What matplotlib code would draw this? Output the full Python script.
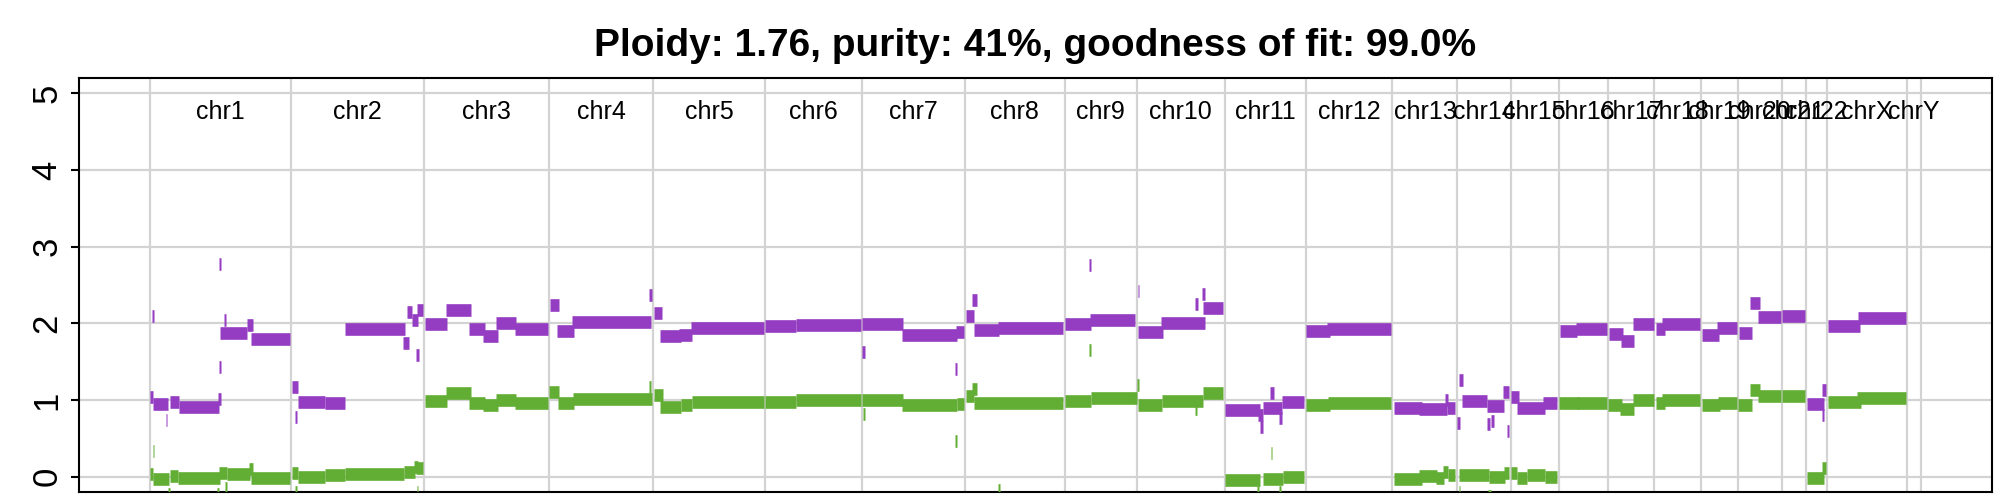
import numpy as np
import matplotlib
matplotlib.use("Agg")
import matplotlib.pyplot as plt

plt.rcParams['font.family'] = ['Liberation Sans', 'DejaVu Sans']

# -----------------------------
# DATA
# -----------------------------
chrom_names = ["chr1", "chr2", "chr3", "chr4", "chr5", "chr6", "chr7", "chr8",
               "chr9", "chr10", "chr11", "chr12", "chr13", "chr14", "chr15",
               "chr16", "chr17", "chr18", "chr19", "chr20", "chr21", "chr22",
               "chrX", "chrY"]
# chromosome extent in Mb
chrom_sizes = [247, 233, 219, 182, 196, 170, 180, 175, 126, 154, 142, 152,
               114, 93, 84, 86, 82, 81, 65, 77, 42, 37, 140, 25]

# total copy number segments: (chrom, start Mb, end Mb, copy number)
total_segments = [
    ("chr1", 1, 6, 1.04), ("chr1", 6, 31, 0.95), ("chr1", 27.5, 30.5, 0.74),
    ("chr1", 35, 51, 0.97), ("chr1", 51, 121, 0.91), ("chr1", 119, 124, 1.01),
    ("chr1", 4, 7, 2.09), ("chr1", 121, 124, 2.78), ("chr1", 121, 124, 1.43),
    ("chr1", 123, 171, 1.88), ("chr1", 130, 133, 2.05), ("chr1", 171, 180, 1.98),
    ("chr1", 178, 246, 1.79),
    ("chr2", 2, 12, 1.17), ("chr2", 7, 10, 0.78), ("chr2", 12, 59, 0.98),
    ("chr2", 59, 94, 0.96), ("chr2", 94, 200, 1.93), ("chr2", 196, 207, 1.74),
    ("chr2", 203, 212, 2.15), ("chr2", 212, 222, 2.05), ("chr2", 219, 224, 1.59),
    ("chr2", 221, 231, 2.17),
    ("chr3", 2, 41, 1.99), ("chr3", 38, 82, 2.18), ("chr3", 79, 107, 1.93),
    ("chr3", 103, 129, 1.84), ("chr3", 126, 162, 2.01), ("chr3", 159, 217, 1.92),
    ("chr4", 2, 17, 2.24), ("chr4", 14, 44, 1.90), ("chr4", 40, 179, 2.02),
    ("chr4", 175, 180, 2.37),
    ("chr5", 2, 16, 2.13), ("chr5", 12, 49, 1.83), ("chr5", 45, 69, 1.85),
    ("chr5", 66, 194, 1.94),
    ("chr6", 1, 55, 1.96), ("chr6", 55, 168, 1.98),
    ("chr7", 1, 72, 1.99), ("chr7", 1, 5, 1.63), ("chr7", 70, 166, 1.85),
    ("chr7", 163, 167, 1.40), ("chr7", 165, 179, 1.89),
    ("chr8", 2, 16, 2.10), ("chr8", 12, 21, 2.30), ("chr8", 17, 60, 1.91),
    ("chr8", 58, 173, 1.94),
    ("chr9", 0, 47, 1.99), ("chr9", 44, 124, 2.05), ("chr9", 43, 46, 2.76),
    ("chr10", 2, 5, 2.42), ("chr10", 2, 46, 1.89), ("chr10", 42, 119, 2.00),
    ("chr10", 103, 108, 2.25), ("chr10", 115, 120, 2.38), ("chr10", 117, 152, 2.20),
    ("chr11", 1, 62, 0.87), ("chr11", 58, 67, 0.80), ("chr11", 62, 67, 0.65),
    ("chr11", 67, 100, 0.90), ("chr11", 80, 86, 1.09), ("chr11", 95, 100, 0.77),
    ("chr11", 100, 140, 0.98),
    ("chr12", 1, 42, 1.90), ("chr12", 38, 150, 1.93),
    ("chr13", 2, 52, 0.90), ("chr13", 47, 95, 0.88), ("chr13", 92, 98, 1.00),
    ("chr13", 95, 110, 0.90),
    ("chr14", 3, 10, 1.26), ("chr14", 0, 5, 0.70), ("chr14", 8, 52, 0.99),
    ("chr14", 52, 81, 0.92), ("chr14", 51, 57, 0.69), ("chr14", 58, 64, 0.72),
    ("chr14", 79, 91, 1.11), ("chr14", 87, 91, 0.60),
    ("chr15", 0, 14, 1.04), ("chr15", 11, 61, 0.90), ("chr15", 56, 82, 0.96),
    ("chr16", 2, 33, 1.90), ("chr16", 30, 84, 1.92),
    ("chr17", 2, 26, 1.86), ("chr17", 23, 47, 1.77), ("chr17", 44, 81, 1.99),
    ("chr18", 2, 18, 1.92), ("chr18", 14, 79, 1.99),
    ("chr19", 2, 32, 1.85), ("chr19", 28, 63, 1.94),
    ("chr20", 2, 25, 1.88), ("chr20", 21, 38, 2.26), ("chr20", 35, 76, 2.08),
    ("chr21", 1, 40, 2.10),
    ("chr22", 2, 32, 0.95), ("chr22", 28, 35, 1.13), ("chr22", 28, 31, 0.80),
    ("chrX", 2, 58, 1.97), ("chrX", 54, 138, 2.07),
]

# minor allele copy number segments: (chrom, start Mb, end Mb, copy number)
minor_segments = [
    ("chr1", 5, 8, 0.34), ("chr1", 1, 6, 0.04), ("chr1", 6, 33, -0.03),
    ("chr1", 32, 35, -0.22), ("chr1", 35, 49, 0.01), ("chr1", 49, 122, -0.02),
    ("chr1", 118, 121, -0.22), ("chr1", 121, 135, 0.05), ("chr1", 132, 135, -0.15),
    ("chr1", 135, 175, 0.03), ("chr1", 173, 180, 0.10), ("chr1", 178, 246, -0.02),
    ("chr2", 2, 12, 0.05), ("chr2", 8, 11, -0.20), ("chr2", 12, 59, 0.00),
    ("chr2", 59, 94, 0.02), ("chr2", 94, 198, 0.04), ("chr2", 198, 217, 0.06),
    ("chr2", 220, 223, -0.20), ("chr2", 216, 222, 0.12), ("chr2", 219, 232, 0.11),
    ("chr3", 2, 41, 0.99), ("chr3", 38, 82, 1.09), ("chr3", 79, 107, 0.96),
    ("chr3", 103, 129, 0.93), ("chr3", 126, 162, 1.00), ("chr3", 159, 217, 0.96),
    ("chr4", 0, 17, 1.11), ("chr4", 15, 43, 0.96), ("chr4", 42, 181, 1.01),
    ("chr4", 175, 179, 1.17),
    ("chr5", 2, 17, 1.07), ("chr5", 12, 49, 0.91), ("chr5", 49, 68, 0.93),
    ("chr5", 68, 195, 0.97),
    ("chr6", 1, 55, 0.98), ("chr6", 55, 168, 1.00),
    ("chr7", 1, 72, 1.00), ("chr7", 2, 5, 0.82), ("chr7", 70, 166, 0.93),
    ("chr7", 163, 167, 0.47), ("chr7", 166, 179, 0.95),
    ("chr8", 2, 17, 1.05), ("chr8", 12, 21, 1.14), ("chr8", 17, 173, 0.96),
    ("chr8", 59, 62, -0.17),
    ("chr9", 43, 46, 1.65), ("chr9", 0, 47, 0.99), ("chr9", 47, 126, 1.02),
    ("chr10", 1, 4, 1.20), ("chr10", 2, 45, 0.94), ("chr10", 45, 117, 0.99),
    ("chr10", 103, 106, 0.88), ("chr10", 117, 152, 1.09),
    ("chr11", 1, 62, -0.04), ("chr11", 57, 60, -0.20), ("chr11", 81, 84, 0.31),
    ("chr11", 67, 102, -0.03), ("chr11", 96, 99, -0.20), ("chr11", 102, 140, 0.00),
    ("chr12", 1, 42, 0.94), ("chr12", 40, 150, 0.96),
    ("chr13", 2, 52, -0.03), ("chr13", 47, 79, 0.01), ("chr13", 77, 91, -0.02),
    ("chr13", 89, 98, 0.06), ("chr13", 98, 110, 0.02),
    ("chr14", 2, 5, -0.20), ("chr14", 3, 56, 0.02), ("chr14", 56, 83, 0.00),
    ("chr14", 53, 58, -0.25), ("chr14", 82, 91, 0.05),
    ("chr15", 0, 12, 0.05), ("chr15", 12, 28, -0.02), ("chr15", 28, 61, 0.02),
    ("chr15", 61, 82, 0.00),
    ("chr16", 0, 35, 0.96), ("chr16", 33, 84, 0.96),
    ("chr17", 0, 25, 0.93), ("chr17", 22, 47, 0.88), ("chr17", 45, 81, 1.00),
    ("chr18", 2, 18, 0.96), ("chr18", 14, 79, 1.00),
    ("chr19", 2, 33, 0.93), ("chr19", 30, 63, 0.96),
    ("chr20", 0, 24, 0.94), ("chr20", 21, 38, 1.13), ("chr20", 35, 75, 1.05),
    ("chr21", 0, 41, 1.05),
    ("chr22", 2, 32, -0.02), ("chr22", 28, 35, 0.11),
    ("chrX", 1, 59, 0.98), ("chrX", 53, 138, 1.03),
]

ploidy = 1.76
purity = 41
goodness = 99.0

TOTAL_COLOR = "#943dc2"
MINOR_COLOR = "#62ae34"

# -----------------------------
# GENOME COORDINATES
# -----------------------------
chrom_starts = np.concatenate([[0], np.cumsum(chrom_sizes)[:-1]])
offset = dict(zip(chrom_names, chrom_starts))
genome_len = float(np.sum(chrom_sizes))
boundaries = list(chrom_starts) + [genome_len]


def to_genome(segments):
    x0 = [offset[c] + s for c, s, e, v in segments]
    x1 = [offset[c] + e for c, s, e, v in segments]
    y = [v for c, s, e, v in segments]
    return x0, x1, y


# -----------------------------
# PLOT
# -----------------------------
fig = plt.figure(figsize=(20, 5), dpi=100)
ax = fig.add_axes([0.0395, 0.016, 0.9565, 0.828])

for y in range(0, 6):
    ax.axhline(y, color="#d3d3d3", linewidth=1.6, zorder=0)
for b in boundaries:
    ax.axvline(b, color="#d3d3d3", linewidth=1.6, zorder=0)

x0, x1, y = to_genome(total_segments)
ax.hlines(y, x0, x1, colors=TOTAL_COLOR, linewidth=9.1, capstyle="butt", zorder=2)
x0, x1, y = to_genome(minor_segments)
ax.hlines(y, x0, x1, colors=MINOR_COLOR, linewidth=9.1, capstyle="butt", zorder=3)

for name, start, size in zip(chrom_names, chrom_starts, chrom_sizes):
    ax.text(start + size / 2, 4.66, name, ha="center", va="baseline", fontsize=18)

pad = 0.04 * genome_len
ax.set_xlim(-pad, genome_len + pad)
ax.set_ylim(-0.2, 5.2)
ax.set_xticks([])
ax.set_yticks(range(0, 6))
ax.tick_params(axis="y", length=6, width=1.5, labelsize=25, pad=5, labelrotation=90)
for lbl in ax.get_yticklabels():
    lbl.set_va("center")
for sp in ax.spines.values():
    sp.set_linewidth(1.5)

ax.set_title(f"Ploidy: {ploidy:.2f}, purity: {purity}%, goodness of fit: {goodness:.1f}%",
             fontsize=28, fontweight="bold", pad=16)

plt.savefig("out.png", dpi=100)
